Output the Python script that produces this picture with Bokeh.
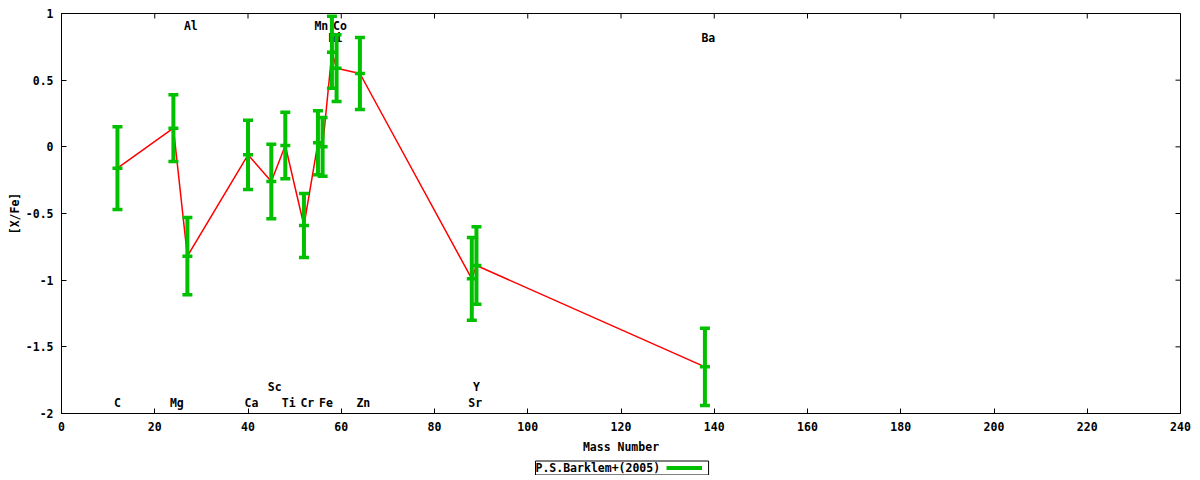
import numpy as np

from bokeh.plotting import figure
from bokeh.layouts import column
from bokeh.models import (ColumnDataSource, FixedTicker, Range1d, Label, Legend, LegendItem)
from bokeh.core.properties import value
from bokeh.embed import file_html
from bokeh.resources import INLINE

# abundances
elements = ["C", "Mg", "Al", "Ca", "Sc", "Ti", "Cr", "Mn", "Fe", "Ni", "Co", "Zn", "Sr", "Y", "Ba"]
mass = [12, 24, 27, 40, 45, 48, 52, 55, 56, 58, 59, 64, 88, 89, 138]
xfe = [-0.16, 0.14, -0.82, -0.06, -0.26, 0.01, -0.59, 0.03, 0.00, 0.71, 0.59, 0.55, -0.99, -0.89, -1.65]
err = [0.31, 0.25, 0.29, 0.26, 0.28, 0.25, 0.24, 0.24, 0.22, 0.27, 0.25, 0.27, 0.31, 0.29, 0.29]

# where each element name is written
label_y = [-1.92, -1.92, 0.905, -1.92, -1.80, -1.92, -1.92, 0.905, -1.92, 0.815, 0.905, -1.92, -1.92, -1.80, 0.815]

x_ticks = list(range(0, 241, 20))
y_ticks = [-2, -1.5, -1, -0.5, 0, 0.5, 1]
y_tick_labels = ["-2", "-1.5", "-1", "-0.5", "0", "0.5", "1"]

series_name = "P.S.Barklem+(2005)"

FONT = "DejaVu Sans Mono"
FSIZE = "11.5px"
GREEN = "#00c000"

lo = np.array(xfe) - np.array(err)
hi = np.array(xfe) + np.array(err)
src = ColumnDataSource(dict(x=mass, y=xfe, lo=lo, hi=hi))

p = figure(width=1192, height=457, x_range=Range1d(0, 240), y_range=Range1d(-2, 1),
           output_backend="svg", toolbar_location=None,
           min_border_left=61, min_border_right=12, min_border_top=13, min_border_bottom=44)
p.grid.visible = False
p.outline_line_color = "black"

for ax in [p.xaxis[0], p.yaxis[0]]:
    ax.major_tick_in = 5
    ax.major_tick_out = 0
    ax.minor_tick_line_color = None
    ax.axis_line_color = "black"
    ax.major_label_text_font = FONT
    ax.major_label_text_font_style = "bold"
    ax.major_label_text_font_size = FSIZE
    ax.major_label_text_color = "black"
    ax.axis_label_text_font = FONT
    ax.axis_label_text_font_style = "bold"
    ax.axis_label_text_font_size = FSIZE
    ax.axis_label_text_color = "black"

p.xaxis.ticker = FixedTicker(ticks=x_ticks)
p.xaxis.major_label_standoff = 8
p.xaxis.axis_label = "Mass Number"
p.xaxis.axis_label_standoff = 6

p.yaxis.ticker = FixedTicker(ticks=y_ticks)
p.yaxis.major_label_overrides = {t: s for t, s in zip(y_ticks, y_tick_labels)}
p.yaxis.major_label_standoff = 8
p.yaxis.axis_label = "[X/Fe]"
p.yaxis.axis_label_standoff = 1

# mirrored ticks on top and right (half of each dash is clipped by the frame)
p.scatter(x=x_ticks, y=[p.y_range.end] * len(x_ticks), marker="dash", angle=np.pi / 2,
          size=10, line_color="black", line_width=1)
p.scatter(x=[p.x_range.end] * len(y_ticks), y=y_ticks, marker="dash",
          size=10, line_color="black", line_width=1)

# element names
p.text(x=mass, y=label_y, text=elements, text_font=value(FONT), text_font_style="bold",
       text_font_size=FSIZE, text_align="left", text_baseline="middle", x_offset=-3.5,
       text_color="black")

# connecting line
p.line("x", "y", source=src, line_color="red", line_width=1.5)

# error bars
p.segment(x0="x", y0="lo", x1="x", y1="hi", source=src, line_color=GREEN, line_width=4)
p.scatter("x", "lo", source=src, marker="dash", size=10, line_color=GREEN, line_width=3.5)
p.scatter("x", "hi", source=src, marker="dash", size=10, line_color=GREEN, line_width=3.5)
p.scatter("x", "y", source=src, marker="dash", size=10, line_color=GREEN, line_width=3.5)

# key strip below the plot: boxed text, sample glyph on its right.
# its ranges keep the data itself out of view, only the legend glyph shows
k = figure(width=1192, height=18, x_axis_type=None, y_axis_type=None,
           x_range=Range1d(0, 1), y_range=Range1d(0, 1),
           output_backend="svg", toolbar_location=None, min_border=0)
k.outline_line_color = None
k.grid.visible = False

key_line = k.line("x", "y", source=src, line_color=GREEN, line_width=4)
key_tick = k.scatter("x", "y", source=src, marker="dash", angle=np.pi / 2, size=10,
                     line_color=GREEN, line_width=3.5)
legend = Legend(items=[LegendItem(label=" ", renderers=[key_line, key_tick])],
                location=(605, 3), glyph_width=36, glyph_height=9, label_width=0,
                label_height=9, label_standoff=0, label_text_font_size="1px",
                padding=0, margin=0, spacing=0, border_line_color=None,
                background_fill_alpha=0)
k.add_layout(legend)

key = Label(x=474, y=7.5, x_units="screen", y_units="screen",
            text=series_name + " " * 7, text_font=FONT, text_font_style="bold",
            text_font_size=FSIZE, text_baseline="middle", text_color="black",
            border_line_color="black", border_line_width=1, background_fill_alpha=0,
            padding=0)
k.add_layout(key)

open("out.html", "w").write(file_html(column(p, k, spacing=0), INLINE))
